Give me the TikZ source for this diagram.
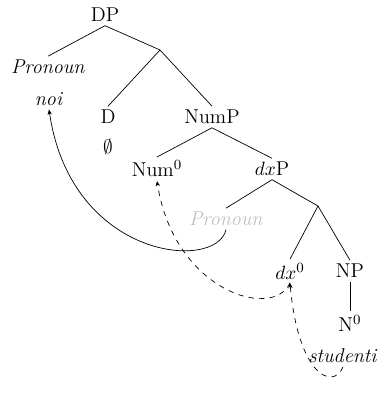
\documentclass[tikz,border=0pt]{standalone}
\usepackage{amssymb}
\usetikzlibrary{arrows.meta}

\begin{document}
\begin{tikzpicture}[x=.02cm, y=-.02cm, >={Stealth[length=3pt,width=2.5pt]},
		every node/.style={font=\fontsize{11.4}{13}\selectfont, inner sep=2pt}]
			\useasboundingbox (0,0) rectangle (385,394);
			\node (dp) at (105,15) {DP};
			\node (pron) at (48,67) {\textit{Pronoun}};
			\node (noi) at (49,99) {\textit{noi}};
			\node[shape=coordinate] (dbar) at (160,50) {};
			\node (d) at (108,117) {D};
			\node (empty) at (108,147) {$\emptyset$};
			\node (nump) at (212,117) {NumP};
			\node (num) at (157,169) {Num$^0$};
			\node (dxp) at (272,169) {$dx$P};
			\node[text=black!25] (pronb) at (226,219) {\textit{Pronoun}};
			\node[shape=coordinate] (dxbar) at (318,206) {};
			\node (dx) at (290,271) {$dx^0$};
			\node (np) at (350,271) {NP};
			\node (n) at (350,323) {N$^0$};
			\node (studenti) at (343,356) {\textit{studenti}};
			\draw (dp.south) -- (pron.north);
			\draw (dp.south) -- (dbar);
			\draw (dbar) -- (d.north);
			\draw (dbar) -- (nump.north);
			\draw (nump.south) -- (num.north);
			\draw (nump.south) -- (dxp.north);
			\draw (dxp.south) -- (pronb.north);
			\draw (dxp.south) -- (dxbar);
			\draw (dxbar) -- (dx.north);
			\draw (dxbar) -- (np.north);
			\draw (np) -- (n);
			% movement
			\draw[->] (pronb.south) .. controls +(-10,42) and +(22,150) .. (noi.south);
			\draw[->, dashed] (dx.south) .. controls +(-17,38) and +(17,110) .. (num.south);
			\draw[->, dashed] (studenti.south) .. controls +(-10,24) and +(8,92) .. (dx.south);
		\end{tikzpicture}
\end{document}
